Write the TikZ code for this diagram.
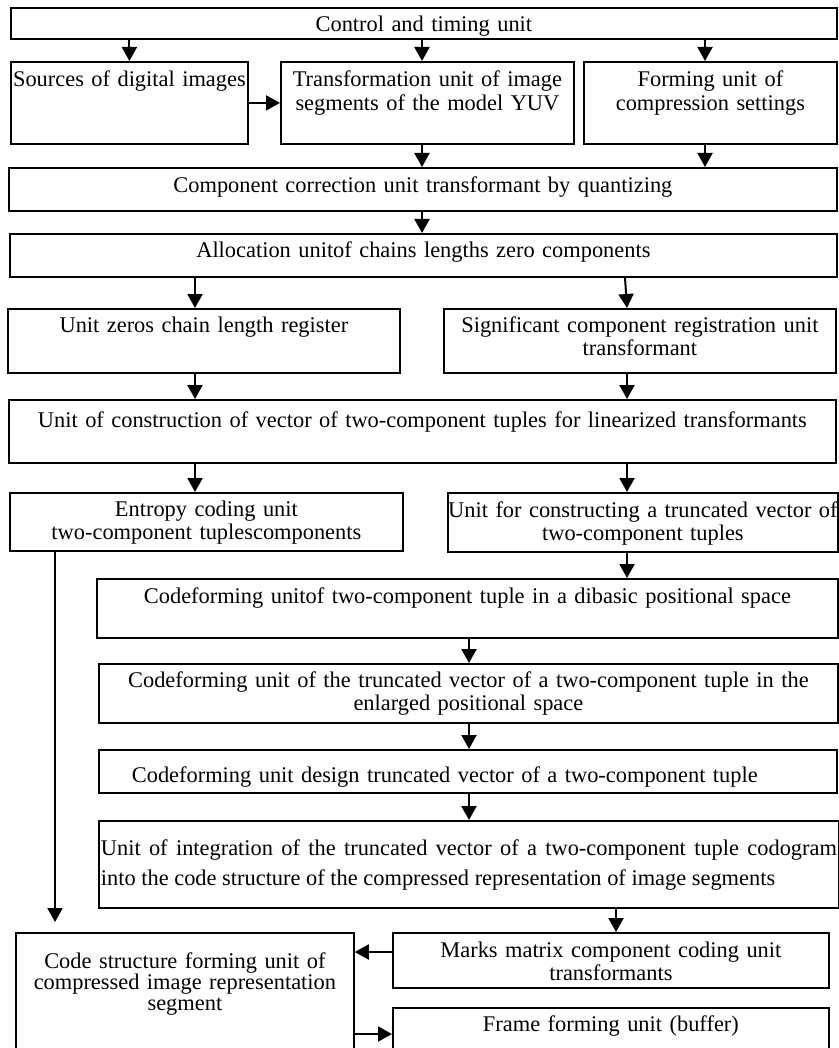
\documentclass[tikz,border=0pt]{standalone}
\usepackage{fontspec}
\setmainfont{Liberation Serif}
\usetikzlibrary{arrows.meta,positioning,calc}
\lineskiplimit=-20pt

\begin{document}
\begin{tikzpicture}[x=0.5pt,y=-0.5pt,
        unit/.style={draw,line width=0.9pt,anchor=north west,inner sep=0pt,align=center,
            text height=12.5pt,font={\fontsize{11.2}{10}\selectfont}},
        flow/.style={-{Triangle[length=7pt,width=7.5pt]},line width=1pt}]
        \useasboundingbox (0,0) rectangle (839,1048);

        % Top units
        \node[unit,text width=413pt,text height=12pt,text depth=3.5pt] (ctrl) at (10,7) {Control and timing unit};
        \node[unit,text width=118.5pt,text depth=28.5pt] (srcs) at (10,61) {Sources of digital images};
        \node[unit,text width=146.5pt,text depth=28.5pt,font={\fontsize{11.2}{12}\selectfont}] (trans) at (280,61) {Transformation unit of image\\segments of the model YUV};
        \node[unit,text width=126.5pt,text depth=28.5pt,font={\fontsize{11.2}{12}\selectfont}] (form) at (583,61) {Forming unit of\\compression settings};

        % Wide units
        \node[unit,text width=414pt,text depth=9pt] (comp) at (8,167) {Component correction unit transformant by quantizing};
        \node[unit,text width=413.5pt,text height=12pt,text depth=9.5pt] (alloc) at (9,233) {Allocation unitof chains lengths zero components};
        \node[unit,text width=196pt,text height=12pt,text depth=20pt] (zeros) at (7,308) {Unit zeros chain length register};
        \node[unit,text width=196pt,text height=12pt,text depth=20pt] (signif) at (443,308) {Significant component registration unit\\transformant};
        \node[unit,text width=413.5pt,text height=14pt,text depth=17.5pt] (constr) at (8,399) {Unit of construction of vector of two-component tuples for linearized transformants};
        \node[unit,text width=196.5pt,text height=12pt,text depth=17pt,font={\fontsize{11.2}{9}\selectfont}] (entropy) at (9,492) {Entropy coding unit\\two-component tuplescomponents};
        \node[unit,text width=195pt,text depth=17pt] (ufor) at (447,492) {Unit for constructing a truncated vector of\\two-component tuples};

        % Codeforming units
        \node[unit,text width=370.5pt,text depth=17pt] (unitof) at (96,578) {Codeforming unitof two-component tuple in a dibasic positional space};
        \node[unit,text width=369.5pt,text height=12pt,text depth=17.5pt] (enlarg) at (98,663) {Codeforming unit of the truncated vector of a two-component tuple in the\\enlarged positional space};
        \node[unit,text width=369pt,text height=16.5pt,text depth=5pt,align=left] (design) at (98,749) {\hspace*{16.5pt}Codeforming unit design truncated vector of a two-component tuple};
        \node[unit,text width=368pt,inner xsep=1pt,text height=17.5pt,text depth=26pt,align=justify,font={\fontsize{11.2}{15}\selectfont}] (integ) at (98,820) {Unit of integration of the truncated vector of a two-component tuple codogram\linebreak into the code structure of the compressed representation of image segments};

        % Bottom units
        \node[unit,text width=218pt,text depth=15pt] (marks) at (392,932) {Marks matrix component coding unit\\transformants};
        \node[unit,text width=218pt,text height=12pt,text depth=30pt] (frame) at (392,1007) {Frame forming unit (buffer)};
        \node[unit,text width=169pt,text height=18pt,text depth=50pt,font={\fontsize{11.2}{10.5}\selectfont}] (code) at (15,932) {Code structure forming unit of\\compressed image representation\\segment};

        % Arrows between units
        \draw[flow] (srcs.north |- ctrl.south) -- (srcs.north);
        \draw[flow] (422,0 |- ctrl.south) -- (422,0 |- trans.north);
        \draw[flow] (705,0 |- ctrl.south) -- (705,0 |- form.north);
        \draw[flow] (srcs.east) -- (trans.west);
        \draw[flow] (422,0 |- trans.south) -- (422,0 |- comp.north);
        \draw[flow] (705,0 |- form.south) -- (705,0 |- comp.north);
        \draw[flow] (422,0 |- comp.south) -- (422,0 |- alloc.north);
        \draw[flow] (195,0 |- alloc.south) -- (195,0 |- zeros.north);
        \draw[flow] (625,0 |- alloc.south) -- (627,0 |- signif.north);
        \draw[flow] (195,0 |- zeros.south) -- (195,0 |- constr.north);
        \draw[flow] (627,0 |- signif.south) -- (627,0 |- constr.north);
        \draw[flow] (195,0 |- constr.south) -- (195,0 |- entropy.north);
        \draw[flow] (627,0 |- constr.south) -- (627,0 |- ufor.north);
        \draw[flow] (627,0 |- ufor.south) -- (627,0 |- unitof.north);
        \draw[flow] (469,0 |- unitof.south) -- (469,0 |- enlarg.north);
        \draw[flow] (469,0 |- enlarg.south) -- (469,0 |- design.north);
        \draw[flow] (469,0 |- design.south) -- (469,0 |- integ.north);
        \draw[flow] (616,0 |- integ.south) -- (616,0 |- marks.north);

        % Arrows into and out of the code structure unit
        \draw[flow,shorten >=5pt] (55,0 |- entropy.south) -- (55,0 |- code.north);
        \draw[flow] (marks.west |- 0,952) -- (code.east |- 0,952);
        \draw[flow] (code.east |- 0,1034) -- (frame.west |- 0,1034);
    \end{tikzpicture}
\end{document}
